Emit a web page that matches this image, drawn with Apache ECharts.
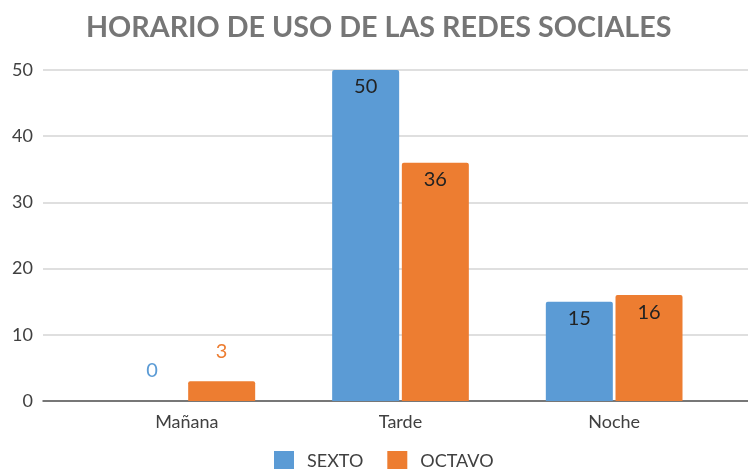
<!DOCTYPE html>
<html>
<head>
<meta charset="utf-8">
<script src="https://cdn.jsdelivr.net/npm/echarts@6/dist/echarts.min.js"></script>
<style>
  html, body { margin: 0; padding: 0; background: #fff; }
  #chart { width: 748px; height: 469px; }
</style>
</head>
<body>
<div id="chart"></div>
<script>
// datos del gráfico
var categorias = ["Mañana", "Tarde", "Noche"];
var sexto = [0, 50, 15];
var octavo = [3, 36, 16];
var yMin = 0, yMax = 50, yPaso = 10;

var fuente = "Lato";

function serie(nombre, datos, color) {
  return {
    name: nombre,
    type: "bar",
    xAxisIndex: 1,
    yAxisIndex: 1,
    barWidth: 67,
    barGap: "4%",
    data: datos.map(function (v) {
      // valores pequeños van encima de la barra, con el color de la serie
      var small = v < 5;
      return {
        value: v,
        label: {
          show: true,
          position: small ? "top" : "insideTop",
          distance: small ? 20 : 7,
          color: small ? color : "#222",
          fontSize: 20,
          fontFamily: fuente
        }
      };
    }),
    itemStyle: { color: color, borderRadius: [2, 2, 0, 0] }
  };
}

var chart = echarts.init(document.getElementById("chart"));
var option = {
  animation: false,
  title: {
    text: "HORARIO DE USO DE LAS REDES SOCIALES",
    left: 81,
    top: 8,
    textStyle: { fontFamily: fuente, fontWeight: "bold", fontSize: 28.7, color: "#767676" }
  },
  legend: {
    data: ["SEXTO", "OCTAVO"],
    left: 269,
    top: 446,
    itemWidth: 20,
    itemHeight: 20,
    itemGap: 24,
    icon: "rect",
    textStyle: { fontFamily: fuente, fontSize: 18, color: "#404040", padding: [0, 0, 0, 8] }
  },
  grid: [
    { left: 43, right: 0, top: 70, bottom: 68 },
    { left: 80, right: 27, top: 70, bottom: 68 }
  ],
  xAxis: [
    {
      type: "category",
      gridIndex: 0,
      data: [""],
      axisLine: { lineStyle: { color: "#555", width: 1.5 } },
      axisTick: { show: false },
      axisLabel: { show: false }
    },
    {
      type: "category",
      gridIndex: 1,
      data: categorias,
      axisLine: { show: false },
      axisTick: { show: false },
      axisLabel: { fontFamily: fuente, fontSize: 18, color: "#404040", margin: 12 }
    }
  ],
  yAxis: [
    {
      type: "value",
      gridIndex: 0,
      min: yMin,
      max: yMax,
      interval: yPaso,
      axisLine: { show: false },
      axisTick: { show: false },
      axisLabel: { fontFamily: fuente, fontSize: 18, color: "#404040", margin: 10 },
      splitLine: { lineStyle: { color: "#d4d4d4", width: 1.5 } }
    },
    {
      type: "value",
      gridIndex: 1,
      min: yMin,
      max: yMax,
      interval: yPaso,
      show: false
    }
  ],
  series: [
    serie("SEXTO", sexto, "#5B9BD5"),
    serie("OCTAVO", octavo, "#ED7D31")
  ]
};
chart.setOption(option);
</script>
</body>
</html>
